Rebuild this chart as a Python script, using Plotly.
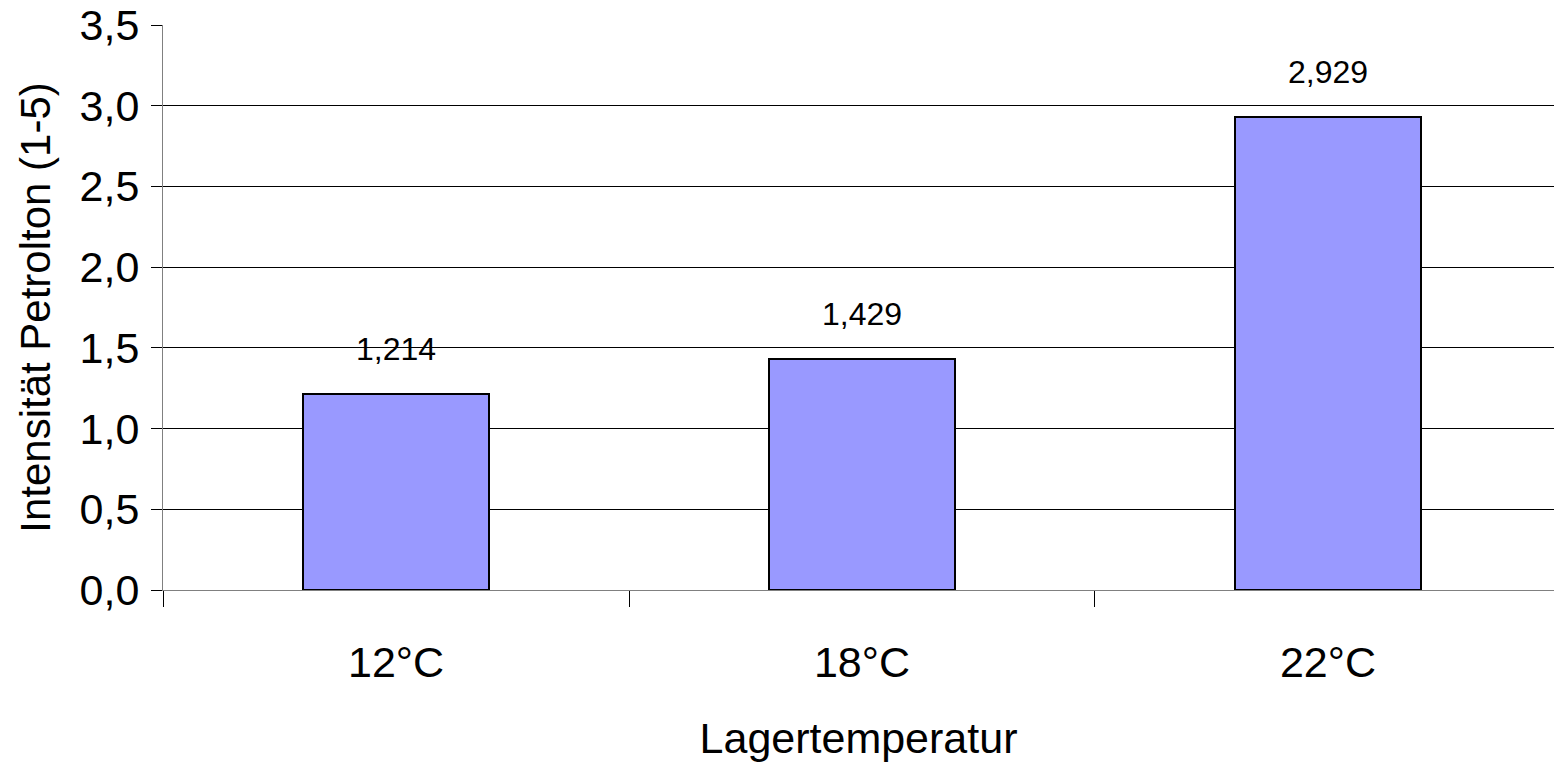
import plotly.graph_objects as go

categories = ["12°C", "18°C", "22°C"]
values = [1.214, 1.429, 2.929]
labels = ["1,214", "1,429", "2,929"]
y_ticks = [0, 0.5, 1.0, 1.5, 2.0, 2.5, 3.0, 3.5]
y_tick_text = ["0,0", "0,5", "1,0", "1,5", "2,0", "2,5", "3,0", "3,5"]

FONT = "Liberation Sans, Arial, sans-serif"

fig = go.Figure()
fig.add_trace(go.Bar(
    x=categories, y=values, width=0.4,
    marker=dict(color="#9999ff", line=dict(color="#000000", width=2)),
    hoverinfo="skip",
))

for c, v, t in zip(categories, values, labels):
    fig.add_annotation(x=c, y=v, text=t, showarrow=False, yanchor="bottom",
                       yshift=25, font=dict(family=FONT, size=32, color="#000"))

fig.update_layout(
    width=1554, height=769,
    margin=dict(l=163, r=0, t=25, b=179),
    paper_bgcolor="white", plot_bgcolor="white",
    showlegend=False,
    font=dict(family=FONT, color="#000"),
    bargap=0,
)
fig.update_xaxes(
    type="category", range=[-0.5, 2.485],
    showline=True, linecolor="#808080", linewidth=1,
    ticks="outside", ticklen=16, tickcolor="#000", tickson="boundaries",
    tickfont=dict(family=FONT, size=43, color="#000"),
    ticklabelstandoff=34,
    showgrid=False, automargin=False,
    title=dict(text="Lagertemperatur", font=dict(family=FONT, size=43, color="#000"), standoff=38),
)
fig.update_yaxes(
    range=[0, 3.5], tickvals=y_ticks, ticktext=y_tick_text,
    showline=True, linecolor="#808080", linewidth=1,
    ticks="outside", ticklen=11, tickcolor="#000",
    tickfont=dict(family=FONT, size=43, color="#000"),
    ticklabelstandoff=3,
    showgrid=True, gridcolor="#000", gridwidth=1,
    zeroline=False, automargin=False,
    title=dict(text="Intensität Petrolton (1-5)", font=dict(family=FONT, size=42, color="#000"), standoff=15),
)

fig.write_html("out.html")
